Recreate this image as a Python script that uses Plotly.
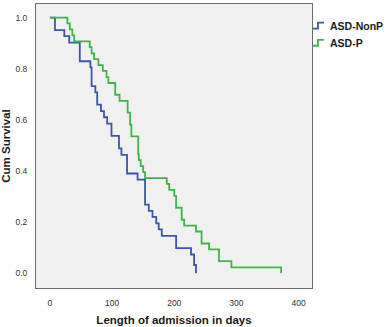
import plotly.graph_objects as go

# Kaplan-Meier estimates
nonp_days = [0, 8, 23, 31, 48, 65, 67, 73, 76, 82, 87, 92, 99, 111, 115, 124, 141, 153,
             159, 165, 171, 175, 180, 203, 227, 232, 235]
nonp_surv = [1.0, 0.951, 0.927, 0.902, 0.829, 0.805, 0.732, 0.707, 0.659, 0.634, 0.610,
             0.585, 0.537, 0.488, 0.463, 0.390, 0.366, 0.268, 0.244, 0.220, 0.195, 0.171,
             0.146, 0.098, 0.073, 0.032, 0.0]

p_days = [0, 28, 32, 36, 39, 64, 67, 71, 78, 85, 91, 94, 105, 112, 125, 129, 131, 142, 143,
          146, 150, 153, 188, 192, 200, 203, 212, 216, 235, 244, 256, 272, 292, 372]
p_surv = [1.0, 0.977, 0.954, 0.930, 0.907, 0.884, 0.860, 0.837, 0.814, 0.791, 0.767, 0.744,
          0.698, 0.674, 0.628, 0.581, 0.535, 0.465, 0.442, 0.419, 0.395, 0.372, 0.349, 0.326,
          0.302, 0.256, 0.209, 0.186, 0.163, 0.116, 0.093, 0.047, 0.023, 0.0]

series_names = ["ASD-NonP", "ASD-P"]
colors = ["#3D55A8", "#3DB54A"]

x_ticks = [0, 100, 200, 300, 400]
y_ticks = [0.0, 0.2, 0.4, 0.6, 0.8, 1.0]
y_tick_text = ["0.0", "0.2", "0.4", "0.6", "0.8", "1.0"]

fig = go.Figure()
for name, xs, ys, col in [(series_names[0], nonp_days, nonp_surv, colors[0]),
                          (series_names[1], p_days, p_surv, colors[1])]:
    fig.add_trace(go.Scatter(x=xs, y=ys, mode="lines", name=name,
                             line=dict(color=col, width=1.8, shape="hv"),
                             showlegend=False))

W, H = 387, 327
ml, mr, mt, mb = 35, 75, 3, 35

# custom legend (text + small step glyphs), placed to the right of the plot
pw = W - ml - mr
ph = H - mt - mb
def px_to_paper(xp, yp):
    return (xp - ml) / pw, (H - mb - yp) / ph

shapes = []
annotations = []
for i, (name, col) in enumerate(zip(series_names, colors)):
    yc = 25 + i * 17.5
    x0, y0 = px_to_paper(313, yc + 3)
    x1, y1 = px_to_paper(318, yc - 3)
    x2, _ = px_to_paper(324, yc)
    path = f"M {x0} {y0} L {x1} {y0} L {x1} {y1} L {x2} {y1}"
    shapes.append(dict(type="path", xref="paper", yref="paper", path=path,
                       line=dict(color=col, width=1.8)))
    tx, ty = px_to_paper(328, yc)
    annotations.append(dict(text=f"<b>{name}</b>", xref="paper", yref="paper",
                            x=tx, y=ty, xanchor="left", yanchor="middle",
                            showarrow=False,
                            font=dict(family="Liberation Sans, Arial", size=10.5,
                                      color="#1a1a1a")))

fig.update_layout(
    width=W, height=H,
    margin=dict(l=ml, r=mr, t=mt, b=mb),
    paper_bgcolor="white",
    plot_bgcolor="#F0F0F0",
    shapes=shapes,
    annotations=annotations,
    font=dict(family="Liberation Sans, Arial", color="#222"),
)
fig.update_xaxes(range=[-22.5, 421.7], tickvals=x_ticks, showgrid=False, zeroline=False,
                 showline=True, mirror=True, linecolor="#6e6e6e", linewidth=1,
                 ticks="", ticklabelstandoff=7,
                 tickfont=dict(size=8.5, color="#333"),
                 title=dict(text="<b>Length of admission in days</b>",
                            font=dict(size=11.5, color="#1a1a1a"), standoff=8))
fig.update_yaxes(range=[-0.058, 1.053], tickvals=y_ticks, ticktext=y_tick_text,
                 showgrid=False, zeroline=False,
                 showline=True, mirror=True, linecolor="#6e6e6e", linewidth=1,
                 ticks="", ticklabelstandoff=6,
                 tickfont=dict(size=8.5, color="#333"),
                 title=dict(text="<b>Cum Survival</b>",
                            font=dict(size=11.5, color="#1a1a1a"), standoff=4))

fig.write_html("out.html", config={"displayModeBar": False},
               post_script="document.body.style.margin='0';document.body.style.padding='0';")
